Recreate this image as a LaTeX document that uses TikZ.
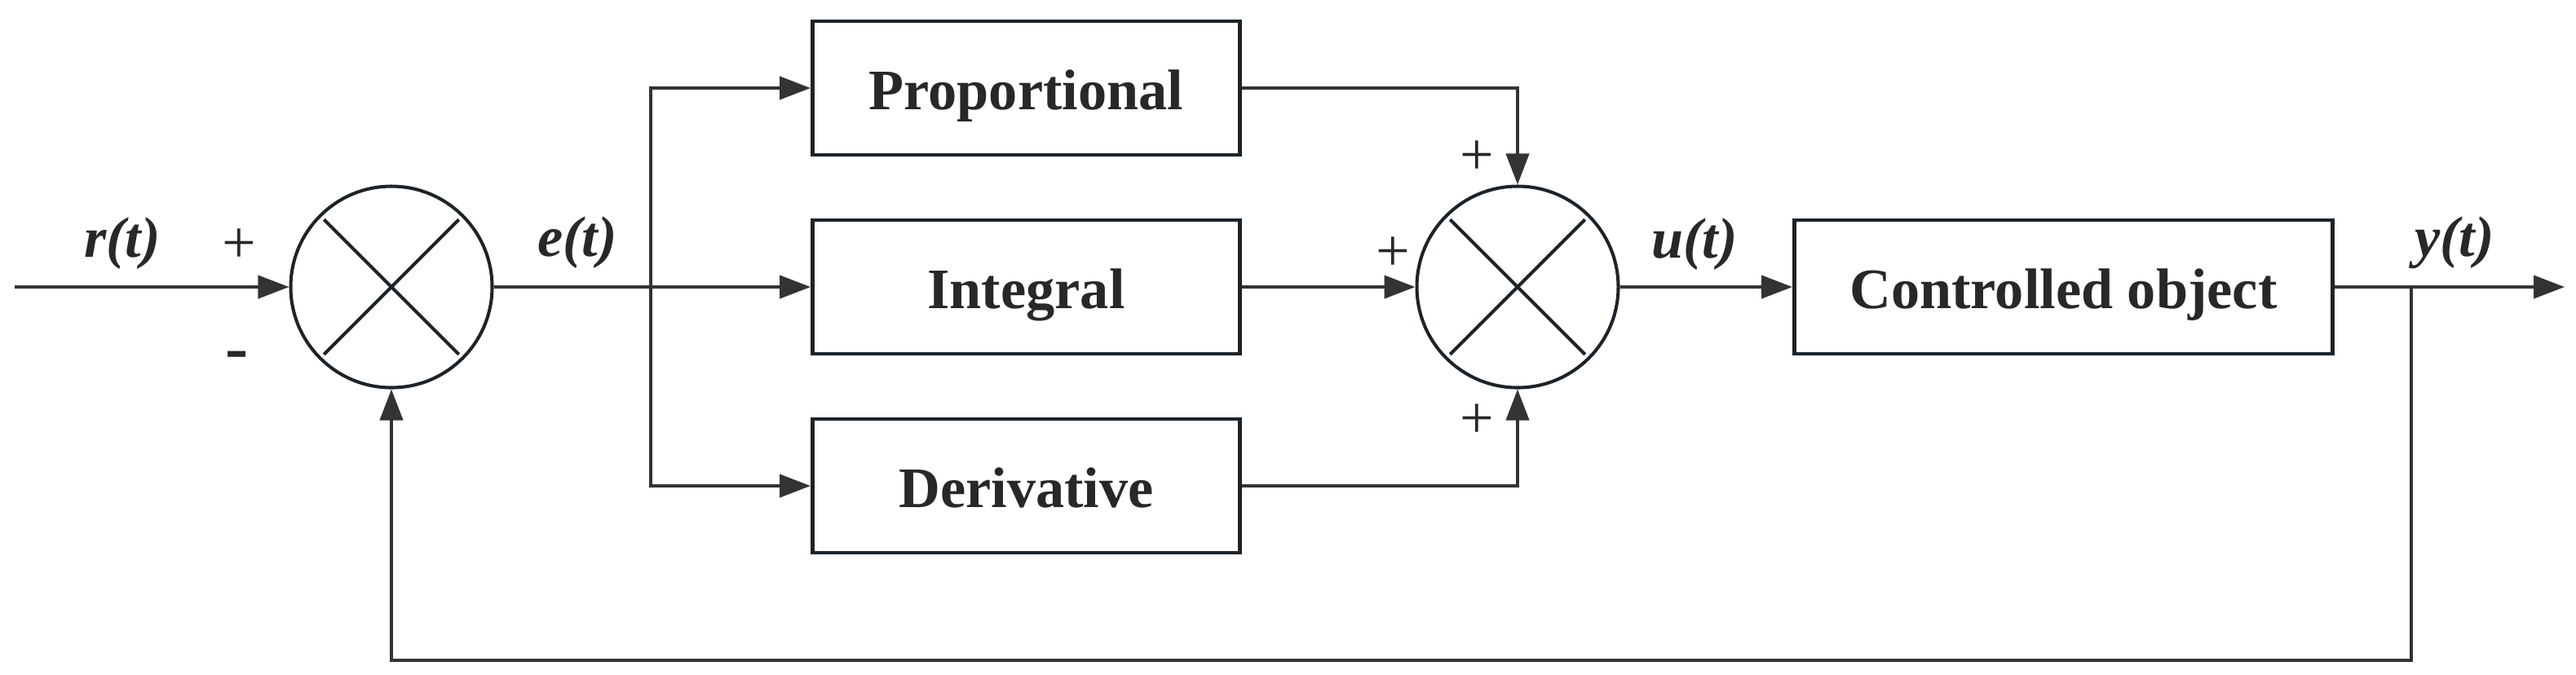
\documentclass[tikz,border=0pt]{standalone}
\usepackage{fontspec}
\setmainfont{Liberation Serif}
\usetikzlibrary{positioning,arrows.meta}
\definecolor{wiregray}{RGB}{51,51,51}
\definecolor{edgeink}{RGB}{28,36,41}
\definecolor{ink}{RGB}{40,40,40}

\begin{document}
\begin{tikzpicture}[node distance=2.44cm,
    blk/.style={draw=edgeink, line width=1.4pt, minimum height=1.64cm, minimum width=5.24cm,
      inner sep=0pt, text height=15pt, text depth=0pt, text=ink, font=\bfseries\fontsize{20}{24}\selectfont},
    sumnode/.style={draw=edgeink, circle, line width=1.15pt, minimum size=2.47cm, inner sep=0pt,
      path picture={\draw[edgeink, line width=1.15pt]
        ([shift={(45:1.17)}]path picture bounding box.center) -- ([shift={(225:1.17)}]path picture bounding box.center)
        ([shift={(135:1.17)}]path picture bounding box.center) -- ([shift={(-45:1.17)}]path picture bounding box.center);}},
    sig/.style={inner sep=0pt, text=ink, font=\bfseries\itshape\fontsize{20}{24}\selectfont},
    sgn/.style={inner sep=0pt, text=ink, font=\fontsize{21}{25}\selectfont},
    wire/.style={draw=wiregray, line width=1.15pt},
    flow/.style={wire, -{Triangle[length=3.8mm, width=2.8mm]}}]
  \useasboundingbox (0,0) rectangle (31.59,8.27);

  \node[sumnode] (sum1) at (4.80,4.75) {};
  \node[blk, right of=sum1, node distance=7.785cm] (I) {Integral};
  \node[blk, above of=I] (P) {Proportional};
  \node[blk, below of=I] (D) {Derivative};

  \node[sumnode, right of=I, node distance=6.025cm] (sum2) {};
  \node[blk, minimum width=6.60cm, right of=sum2, node distance=6.695cm] (plant) {Controlled object};

  \coordinate (in) at (0.18,4.75);
  \coordinate[right of=sum1, node distance=3.18cm] (br);
  \coordinate[right of=plant, node distance=4.265cm] (fb);
  \coordinate[right of=plant, node distance=6.145cm] (out);

  % signals and signs
  \node[sig] (r) at (1.50,5.28) {r(t)};
  \node[sig] (e) at (7.08,5.29) {e(t)};
  \node[sig] (u) at (20.78,5.27) {u(t)};
  \node[sig] (y) at (30.10,5.29) {y(t)};
  \node[sgn] (s1p) at (2.93,5.25) {+};
  \node[sgn, font=\bfseries\fontsize{24}{28}\selectfont] (s1m) at (2.91,3.84) {-};
  \node[sgn] (s2t) at (18.11,6.33) {+};
  \node[sgn] (s2l) at (17.08,5.15) {+};
  \node[sgn] (s2b) at (18.11,3.10) {+};

  \path
  (in) edge[flow] (sum1.west)
  (sum1.east) edge[flow] (I.west)
  (I.east) edge[flow] (sum2.west)
  (sum2.east) edge[flow] (plant.west)
  (plant.east) edge[flow] (out);

  \draw[flow] (br) |- (P.west);
  \draw[flow] (br) |- (D.west);
  \draw[flow] (P.east) -| (sum2.north);
  \draw[flow] (D.east) -| (sum2.south);

  % feedback
  \draw[flow] (fb) -- ++(0,-4.58) -| (sum1.south);
\end{tikzpicture}
\end{document}
